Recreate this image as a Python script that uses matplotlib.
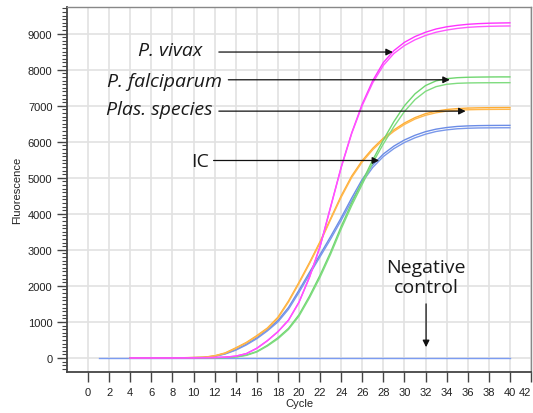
"""Real-time PCR amplification curves (fluorescence vs cycle) with species labels."""

import matplotlib
matplotlib.use("Agg")
import matplotlib.pyplot as plt
from matplotlib.ticker import MultipleLocator

# ---- data -------------------------------------------------------------
cycles = list(range(4, 41))
neg_cycles = list(range(1, 41))

vivax_1 = [0, 0, 0, 0, 0, 2, 4, 8, 12, 22, 50, 120, 270, 480, 730, 1050, 1550,
           2250, 3100, 4200, 5300, 6250, 7050, 7700, 8200, 8530, 8760, 8920,
           9040, 9130, 9190, 9230, 9260, 9278, 9290, 9296, 9300]
vivax_2 = [0, 0, 0, 0, 0, 2, 4, 8, 12, 22, 50, 118, 265, 475, 725, 1040, 1540,
           2240, 3090, 4180, 5280, 6230, 7010, 7640, 8120, 8450, 8670, 8830,
           8950, 9040, 9100, 9145, 9175, 9193, 9204, 9210, 9214]
falci_1 = [0, 0, 0, 0, 0, 1, 2, 4, 6, 10, 30, 80, 180, 350, 560, 820, 1200,
           1720, 2300, 2940, 3650, 4300, 4900, 5500, 6050, 6560, 7000, 7330,
           7560, 7690, 7750, 7778, 7790, 7795, 7798, 7800, 7800]
falci_2 = [0, 0, 0, 0, 0, 1, 2, 4, 6, 10, 25, 70, 165, 330, 530, 790, 1160,
           1670, 2240, 2880, 3580, 4230, 4820, 5420, 5940, 6420, 6840, 7170,
           7400, 7530, 7595, 7622, 7632, 7636, 7638, 7639, 7640]
plas_1 = [0, 0, 0, 1, 3, 6, 12, 20, 60, 140, 280, 430, 620, 830, 1130, 1580,
          2100, 2650, 3230, 3870, 4500, 5050, 5480, 5820, 6100, 6330, 6520,
          6670, 6780, 6850, 6895, 6920, 6935, 6942, 6946, 6948, 6950]
plas_2 = [0, 0, 0, 1, 3, 6, 11, 20, 55, 130, 265, 415, 600, 810, 1100, 1550,
          2070, 2620, 3200, 3840, 4460, 5010, 5440, 5780, 6060, 6290, 6480,
          6630, 6735, 6805, 6850, 6875, 6888, 6894, 6897, 6899, 6900]
ic_1 = [0, 0, 0, 1, 2, 5, 9, 15, 50, 120, 230, 380, 560, 780, 1040, 1400, 1880,
        2380, 2870, 3370, 3890, 4440, 4960, 5360, 5660, 5880, 6050, 6180, 6280,
        6350, 6395, 6425, 6440, 6448, 6452, 6454, 6455]
ic_2 = [0, 0, 0, 1, 2, 4, 8, 12, 45, 110, 215, 360, 535, 750, 1000, 1350, 1820,
        2320, 2810, 3300, 3820, 4360, 4880, 5290, 5590, 5810, 5980, 6110, 6210,
        6285, 6330, 6360, 6375, 6383, 6386, 6388, 6389]
negative = [0] * 40

x_ticks = list(range(0, 44, 2))

# label, text anchor (x, y), arrow tail (x, y), arrow head (x, y)
labels = [
    ("P. vivax", (10.8, 8560), (12.4, 8490), (28.9, 8490)),
    ("P. falciparum", (12.7, 7680), (13.3, 7720), (34.3, 7720)),
    ("Plas. species", (11.8, 6900), (12.4, 6850), (35.8, 6850)),
]
ic_label = ("IC", (11.5, 5470), (11.9, 5480), (27.6, 5480))

# ---- figure -----------------------------------------------------------
fig = plt.figure(figsize=(5.33, 4.14), dpi=100)
ax = fig.add_axes([67 / 533, 41 / 414, 464 / 533, 365 / 414])

GRID = "#e2e2e2"
ax.set_xlim(-2, 42)
ax.set_ylim(-390, 9740)
ax.xaxis.set_major_locator(MultipleLocator(2))
ax.yaxis.set_major_locator(MultipleLocator(1000))
ax.yaxis.set_minor_locator(MultipleLocator(100))
ax.grid(True, which="major", color=GRID, lw=1.2, zorder=0)
ax.set_axisbelow(True)

ax.plot(neg_cycles, negative, color="#7c9cf2", lw=1.0, zorder=2)
for ys, c in [(ic_1, "#6b8ce6"), (ic_2, "#7a98ea"),
              (plas_1, "#ffad33"), (plas_2, "#ffb84d"),
              (falci_1, "#6fd66f"), (falci_2, "#7fdc7f"),
              (vivax_1, "#ff33ff"), (vivax_2, "#ff55ff")]:
    ax.plot(cycles, ys, color=c, lw=1.0, zorder=3)

ax.set_xticks(x_ticks)
ax.set_xticklabels([str(t) for t in x_ticks])
ax.get_xticklabels()[-1].set_horizontalalignment("right")
ax.set_yticks(range(0, 10000, 1000))

ax.tick_params(axis="both", which="major", direction="out", length=7,
               width=1.0, color="#444", labelsize=8, labelcolor="#222")
ax.tick_params(axis="y", which="minor", direction="out", length=3.5,
               width=0.8, color="#444")
for side in ["left", "bottom"]:
    ax.spines[side].set_color("#444")
    ax.spines[side].set_linewidth(1.3)
for side in ["top", "right"]:
    ax.spines[side].set_color("#888")
    ax.spines[side].set_linewidth(1.0)

for lab in ax.get_xticklabels() + ax.get_yticklabels():
    lab.set_fontfamily("Liberation Sans")

ax.set_xlabel("Cycle", fontsize=8, family="Liberation Sans", color="#222",
              labelpad=1)
ax.set_ylabel("Fluorescence", fontsize=8, family="Liberation Sans",
              color="#222", labelpad=4)

FONT = "Open Sans"
SIZE = 14
arrow = dict(arrowstyle="-|>", color="#111", lw=0.9, mutation_scale=10,
             shrinkA=0, shrinkB=0)
for text, (tx, ty), tail, head in labels:
    ax.text(tx, ty, text, ha="right", va="center", fontsize=SIZE,
            style="italic", family=FONT, color="#1a1a1a")
    ax.annotate("", xy=head, xytext=tail, arrowprops=arrow)

text, (tx, ty), tail, head = ic_label
ax.text(tx, ty, text, ha="right", va="center", fontsize=SIZE, family=FONT,
        color="#1a1a1a")
ax.annotate("", xy=head, xytext=tail, arrowprops=arrow)

ax.text(32.05, 2240, "Negative\ncontrol", ha="center", va="center",
        fontsize=SIZE, family=FONT, color="#1a1a1a", linespacing=1.15)
ax.annotate("", xy=(32.05, 300), xytext=(32.05, 1500), arrowprops=arrow)

fig.savefig("out.png", dpi=100)
